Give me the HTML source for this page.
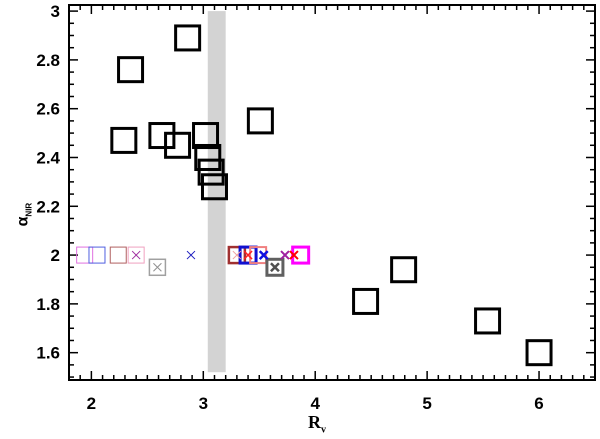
<!DOCTYPE html>
<html><head><meta charset="utf-8"><style>
body{margin:0;background:#fff;}
svg{display:block;font-family:"Liberation Sans",sans-serif;}
</style></head><body>
<svg id="chart" width="600" height="439"></svg>
<script>
const blackX=[2.86,2.35,2.29,2.63,2.77,3.02,3.04,3.07,3.10,3.51,4.45,4.79,5.54,6.0];
const blackY=[2.89,2.76,2.47,2.49,2.45,2.49,2.40,2.34,2.28,2.55,1.81,1.94,1.73,1.60];
const colX=[1.94,2.05,2.24,2.40,2.59,3.30,3.40,3.49,3.64,3.87];
const colY=[2.0,2.0,2.0,2.0,1.95,2.0,2.0,2.0,1.95,2.0];
const colColor=["#e070e0","#5060e0","#b06060","#f0a0c0","#a0a0a0","#a03030","#1010d0","#f08080","#606060","#ff00ff"];
const colW=[1,1,1,1,1.5,2.5,3,2,3,3];
const crossX=[2.40,2.59,2.89,3.30,3.40,3.54,3.64,3.73,3.81];
const crossY=[2.0,1.95,2.0,2.0,2.0,2.0,1.95,2.0,2.0];
const crossColor=["#a030a0","#909090","#2020c0","#f0a0a0","#ff2020","#1010e0","#505050","#a020a0","#ff0000"];
const crossW=[1,1,1,1,1.5,2.5,2.5,2,2];
const xTicks=[2,3,4,5,6];
const yTicks=[1.6,1.8,2.0,2.2,2.4,2.6,2.8,3.0];
const yLabels=["1.6","1.8","2","2.2","2.4","2.6","2.8","3"];
const L=69,R=595,T=5,B=380,X0=1.8,X1=6.5,Y0=1.488,Y1=3.025;
const sx=v=>L+(v-X0)/(X1-X0)*(R-L);
const sy=v=>B-(v-Y0)/(Y1-Y0)*(B-T);
const svg=document.getElementById('chart');
const NS='http://www.w3.org/2000/svg';
function mk(t,a){const e=document.createElementNS(NS,t);for(const k in a)e.setAttribute(k,a[k]);svg.appendChild(e);return e;}
let band=mk('rect',{x:sx(3.04),y:sy(3.0),width:sx(3.2)-sx(3.04),height:sy(1.52)-sy(3.0),fill:'#d3d3d3'});


let box=mk('rect',{x:L,y:T,width:R-L,height:B-T,fill:'none',stroke:'#000','stroke-width':2});


for(let i=0;i<=47;i++){const v=1.8+i*0.1;const x=sx(v);const maj=Math.abs(v-Math.round(v))<1e-6;const len=maj?9:5;
 let t=mk('line',{x1:x,x2:x,y1:B,y2:B-len,stroke:'#000','stroke-width':1.5});
 
 
 let t2=mk('line',{x1:x,x2:x,y1:T,y2:T+len,stroke:'#000','stroke-width':1.5});
 
 }
for(let i=0;i<=30;i++){const v=1.5+i*0.05;if(v>3.02)break;const y=sy(v);const maj=Math.abs(v*5-Math.round(v*5))<1e-6;const len=maj?9:5;
 let t=mk('line',{x1:L,x2:L+len,y1:y,y2:y,stroke:'#000','stroke-width':1.5});
 
 
 let t2=mk('line',{x1:R,x2:R-len,y1:y,y2:y,stroke:'#000','stroke-width':1.5});
 
 }
xTicks.forEach(v=>{let t=mk('text',{x:sx(v),y:409,'text-anchor':'middle','font-size':17,'font-weight':'bold'});t.textContent=v;
 
 });
yTicks.forEach((v,i)=>{let t=mk('text',{x:60,y:sy(v)+6,'text-anchor':'end','font-size':17,'font-weight':'bold'});t.textContent=yLabels[i];
 
 });
blackX.forEach((v,i)=>{let s=mk('rect',{x:sx(v)-12,y:sy(blackY[i])-12,width:24,height:24,fill:'none',stroke:'#000','stroke-width':3});
 
 });
colX.forEach((v,i)=>{let s=mk('rect',{x:sx(v)-8,y:sy(colY[i])-8,width:16,height:16,fill:'none',stroke:colColor[i],'stroke-width':colW[i]});
 
 });
crossX.forEach((v,i)=>{const x=sx(v),y=sy(crossY[i]);let p=mk('path',{d:`M${x-4} ${y-4}L${x+4} ${y+4}M${x-4} ${y+4}L${x+4} ${y-4}`,stroke:crossColor[i],'stroke-width':crossW[i],fill:'none'});
 
 });
</script>
<div style="position:absolute;left:308px;top:412px;font:bold 18px 'Liberation Serif',serif;">R<sub style="font-size:10px">v</sub></div>
<div style="position:absolute;left:4px;top:205px;transform:rotate(-90deg);transform-origin:center;font:bold 16px 'Liberation Sans',sans-serif;width:40px;text-align:center;">α<sub style="font-size:8px">NIR</sub></div>
</body></html>
